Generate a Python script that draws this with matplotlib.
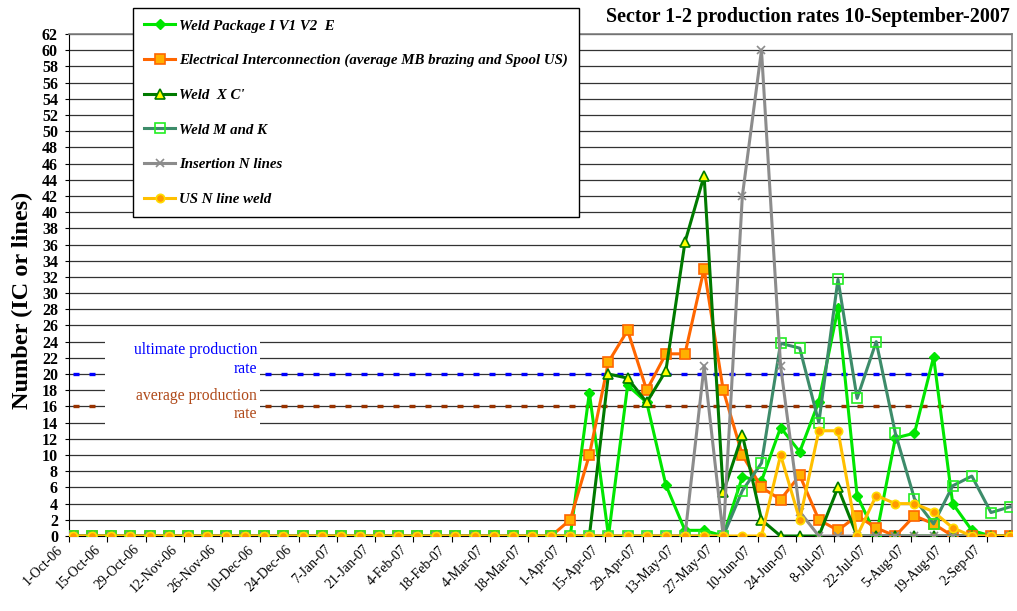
import pandas as pd
import matplotlib
matplotlib.use("Agg")
import matplotlib.pyplot as plt
from matplotlib.patches import Rectangle
from matplotlib.transforms import ScaledTranslation

plt.rcParams['font.family'] = ['Liberation Serif', 'DejaVu Serif']

# weekly categories, 1-Oct-06 .. 9-Sep-07
weeks = pd.date_range("2006-10-01", periods=50, freq="7D")
week_labels = [f"{d.day}-{d.strftime('%b-%y')}" for d in weeks]

weld_package = [0, 0, 0, 0, 0, 0, 0, 0, 0, 0, 0, 0, 0, 0, 0, 0, 0, 0, 0, 0, 0, 0, 0, 0, 0,
                0, 0, 17.7, 0, 18.6, 16.5, 6.3, 0.7, 0.7, 0, 7.3, 6.8, 13.4, 10.4, 16.6,
                28.1, 5, 0, 12.1, 12.7, 22.1, 4, 0.7, 0, 0]
electrical = [0, 0, 0, 0, 0, 0, 0, 0, 0, 0, 0, 0, 0, 0, 0, 0, 0, 0, 0, 0, 0, 0, 0, 0, 0,
              0, 2, 10, 21.5, 25.4, 18, 22.5, 22.5, 33, 18, 10, 6, 4.5, 7.5, 2,
              0.7, 2.5, 1, 0, 2.5, 1.5, 0, 0, 0, 0]
weld_xc = [0, 0, 0, 0, 0, 0, 0, 0, 0, 0, 0, 0, 0, 0, 0, 0, 0, 0, 0, 0, 0, 0, 0, 0, 0,
           0, 0, 0, 20, 19.5, 16.5, 20.4, 36.3, 44.5, 5.4, 12.5, 2, 0, 0, 0,
           6, 0, 0, 0, 0, 0, 0, 0, 0, 0]
weld_mk = [0, 0, 0, 0, 0, 0, 0, 0, 0, 0, 0, 0, 0, 0, 0, 0, 0, 0, 0, 0, 0, 0, 0, 0, 0,
           0, 0, 0, 0, 0, 0, 0, 0, 0, 0, 5.6, 9, 23.8, 23.2, 14,
           31.7, 17, 24, 12.7, 4.6, 1.5, 6.2, 7.4, 2.9, 3.6]
insertion = [0, 0, 0, 0, 0, 0, 0, 0, 0, 0, 0, 0, 0, 0, 0, 0, 0, 0, 0, 0, 0, 0, 0, 0, 0,
             0, 0, 0, 0, 0, 0, 0, 0, 21, 0, 42, 60, 21, 3, 0,
             0, 0, 0, 0, 0, 0, 0, 0, 0, 0]
us_weld = [0, 0, 0, 0, 0, 0, 0, 0, 0, 0, 0, 0, 0, 0, 0, 0, 0, 0, 0, 0, 0, 0, 0, 0, 0,
           0, 0, 0, 0, 0, 0, 0, 0, 0, 0, 0, 0, 10, 2, 13,
           13, 0, 5, 4, 4, 3, 1, 0, 0, 0]

ultimate_rate = 20
average_rate = 16
rate_weeks = 47   # reference lines drawn up to 19-Aug-07

x = list(range(len(weeks)))

fig = plt.figure(figsize=(10.17, 6.11), dpi=100)
ax = fig.add_axes([69 / 1017, 75 / 611, 943 / 1017, 502 / 611])

ax.set_yticks(range(0, 63, 2))
ax.yaxis.grid(True, color='#333333', lw=0.9, zorder=0)
ax.set_axisbelow(True)

# reference rates
ax.plot(x[:rate_weeks], [ultimate_rate] * rate_weeks, color='#0000ff', lw=2.4,
        dashes=(1.8, 3.0), zorder=2)
ax.plot(x[:rate_weeks], [average_rate] * rate_weeks, color='#993300', lw=2.4,
        dashes=(1.8, 3.0), zorder=2)

# white box behind the rate labels
ax.add_patch(Rectangle((0.038, 0.219), 0.165, 0.175, transform=ax.transAxes,
                       facecolor='white', edgecolor='none', zorder=3))
rate_fs = 11.3
ax.text(0.1994, 0.370, 'ultimate production', transform=ax.transAxes, ha='right',
        va='center', color='#0000ff', fontsize=rate_fs, zorder=4)
ax.text(0.1994, 0.333, 'rate', transform=ax.transAxes, ha='right',
        va='center', color='#0000ff', fontsize=rate_fs, zorder=4)
ax.text(0.1994, 0.279, 'average production', transform=ax.transAxes, ha='right',
        va='center', color='#b04a1a', fontsize=rate_fs, zorder=4)
ax.text(0.1994, 0.243, 'rate', transform=ax.transAxes, ha='right',
        va='center', color='#b04a1a', fontsize=rate_fs, zorder=4)

lw = 2.2
ax.plot(x, weld_package, color='#00e600', lw=lw, marker='D', ms=5,
        mfc='#00e600', mec='#00e600', label='Weld Package I V1 V2  E', zorder=5)
ax.plot(x, electrical, color='#ff6600', lw=lw, marker='s', ms=6.5,
        mfc='#ffb000', mec='#ff6600', mew=1.2,
        label='Electrical Interconnection (average MB brazing and Spool US)', zorder=5)
ax.plot(x, weld_xc, color='#007a00', lw=lw, marker='^', ms=6.5,
        mfc='#ffff00', mec='#007a00', mew=1.2, label="Weld  X C'", zorder=5)
ax.plot(x, weld_mk, color='#3d8c6a', lw=lw, marker='s', ms=6.5,
        mfc='none', mec='#22ee22', mew=1.2, label='Weld M and K', zorder=5)
ax.plot(x, insertion, color='#8c8c8c', lw=lw, marker='x', ms=6,
        mec='#8c8c8c', mew=1.2, label='Insertion N lines', zorder=5)
ax.plot(x, us_weld, color='#ffc000', lw=lw, marker='o', ms=6,
        mfc='#ff9900', mec='#ffdd00', mew=1.2, label='US N line weld', zorder=5)

# axes styling
for side in ('top', 'right'):
    ax.spines[side].set_color('#808080')
    ax.spines[side].set_linewidth(1.2)
ax.spines['left'].set_color('black')
ax.spines['bottom'].set_color('black')

# tick marks slightly left of the points; date labels drawn as text, shifted left
ax.set_xticks([i - 0.2 for i in x[::2]])
ax.set_xticklabels([])
ax.tick_params(axis='x', length=4)
lab_tr = ax.get_xaxis_transform() + ScaledTranslation(-13 / 100, -7 / 100,
                                                      fig.dpi_scale_trans)
for i in x[::2]:
    ax.text(i - 0.2, 0, week_labels[i], transform=lab_tr, rotation=45,
            ha='right', va='top', rotation_mode='anchor', fontsize=10,
            clip_on=False)

ax.tick_params(axis='y', length=3, pad=5, labelsize=11.5)
for lab in ax.get_yticklabels():
    lab.set_fontweight('bold')

ax.set_xlim(-0.21, 49.1)
ax.set_ylim(0, 62)

fig.text(22 / 1017, 1 - 300 / 611, 'Number (IC or lines)', rotation=90,
         ha='center', va='center', fontsize=17.5, fontweight='bold')
fig.text(1010 / 1017, 1 - 17 / 611, 'Sector 1-2 production rates 10-September-2007',
         ha='right', va='center', fontsize=14.5, fontweight='bold')

leg = fig.legend(loc='upper left', bbox_to_anchor=(133 / 1017, 1 - 8 / 611),
                 frameon=True, fancybox=False, framealpha=1, edgecolor='black',
                 prop={'style': 'italic', 'weight': 'bold', 'size': 10.7},
                 labelspacing=1.43, handlelength=2.1, handletextpad=0.25,
                 borderpad=0.75, borderaxespad=0)
leg.get_frame().set_linewidth(1.0)
leg.set_zorder(10)

fig.savefig('out.png', dpi=100)
